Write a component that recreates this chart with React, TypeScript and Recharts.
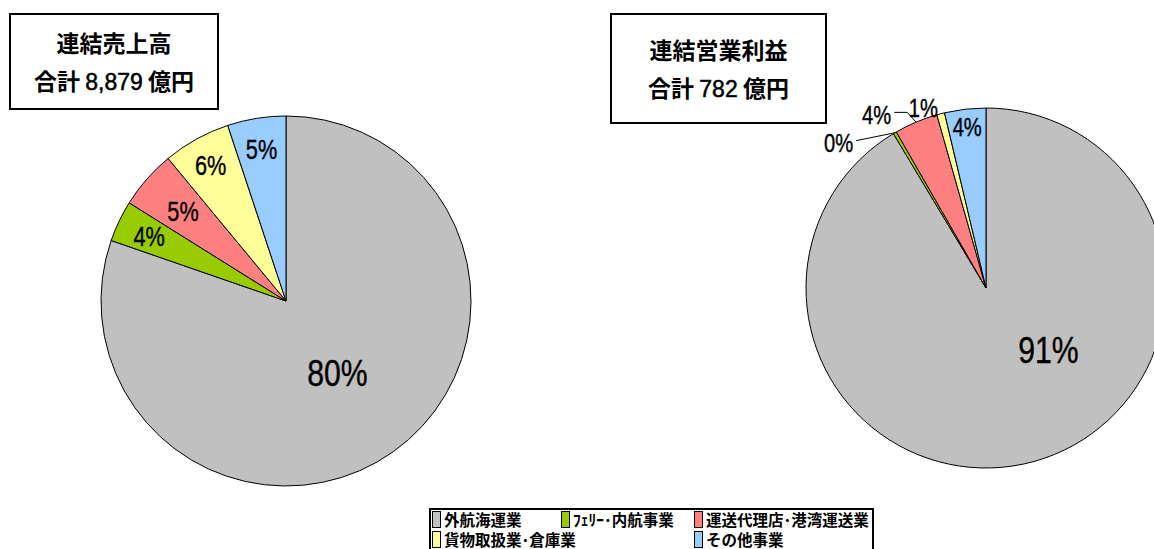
import React from "react";
import { PieChart, Pie, Cell } from "recharts";

// Segments (same order for both pies, clockwise from 12 o'clock)
const categories = [
  "外航海運業",
  "ﾌｪﾘｰ･内航事業",
  "運送代理店･港湾運送業",
  "貨物取扱業･倉庫業",
  "その他事業",
];
const colors = ["#C0C0C0", "#99CC00", "#FF8080", "#FFFF99", "#99CCFF"];

// Share of consolidated sales / operating profit (%)
const salesShare = [80.3, 3.6, 5.1, 5.9, 5.1];
const profitShare = [91.4, 0.3, 3.9, 0.7, 3.7];

const salesTitle = ["連結売上高", "合計", "8,879", "億円"];
const profitTitle = ["連結営業利益", "合計", "782", "億円"];

const salesData = categories.map((name, i) => ({ name, value: salesShare[i] }));
const profitData = categories.map((name, i) => ({ name, value: profitShare[i] }));

// label placement: r = fraction of radius, clock = override angle (deg from top, clockwise)
const salesLabels = [
  { r: 0.48, fs: 36 },
  { r: 0.82, fs: 28 },
  { r: 0.74, fs: 28 },
  { r: 0.84, fs: 28 },
  { r: 0.83, fs: 28 },
];
const profitLabels = [
  { r: 0.49, fs: 36, clock: 135 },
  { r: 1.15, fs: 26, clock: 314.6, leader: true, elbow: 0 },
  { r: 1.14, fs: 26, clock: 327.8, leader: true, elbow: 13 },
  { r: 1.06, fs: 26, clock: 340.8 },
  { r: 0.9, fs: 26 },
];

const renderLabel = (layout: any[]) => (props: any) => {
  const { cx, cy, midAngle, outerRadius, percent, index } = props;
  const cfg = layout[index];
  const mid = 90 - midAngle;
  const clock = cfg.clock ?? mid;
  const rad = (clock * Math.PI) / 180;
  const r = outerRadius * cfg.r;
  const x = cx + r * Math.sin(rad);
  const y = cy - r * Math.cos(rad);
  const text = `${Math.round(percent * 100)}%`;
  const w = text.length * 0.56 * cfg.fs;

  let leader = null;
  if (cfg.leader) {
    const mrad = (mid * Math.PI) / 180;
    const ex = cx + outerRadius * Math.sin(mrad);
    const ey = cy - outerRadius * Math.cos(mrad);
    const lx = x + w / 2 + 3;
    const ly = y - 2;
    leader = (
      <path
        d={`M${lx},${ly} L${lx + cfg.elbow},${ly} L${ex},${ey}`}
        stroke="#000"
        strokeWidth={1}
        fill="none"
      />
    );
  }

  return (
    <g key={`lbl-${index}`}>
      {leader}
      <text
        x={x}
        y={y + cfg.fs * 0.36}
        textAnchor="middle"
        fontFamily="'Liberation Sans', Arial, sans-serif"
        fontSize={cfg.fs}
        fill="#000"
        stroke="#000"
        strokeWidth={0.4}
        textLength={w}
        lengthAdjust="spacingAndGlyphs"
      >
        {text}
      </text>
    </g>
  );
};

const TitleBox = ({ lines, style }: { lines: string[]; style: React.CSSProperties }) => (
  <div
    style={{
      position: "absolute",
      boxSizing: "border-box",
      border: "2px solid #000",
      background: "#fff",
      display: "flex",
      flexDirection: "column",
      alignItems: "center",
      justifyContent: "center",
      fontFamily: "'Noto Sans CJK JP', sans-serif",
      fontWeight: 700,
      color: "#000",
      ...style,
    }}
  >
    <div style={{ fontSize: 23, lineHeight: "38px" }}>{lines[0]}</div>
    <div style={{ fontSize: 23, lineHeight: "38px" }}>
      {lines[1]}{" "}
      <span
        style={{
          fontFamily: "'Liberation Sans', Arial, sans-serif",
          fontWeight: 400,
          fontSize: 23,
          WebkitTextStroke: "0.5px #000",
        }}
      >
        {lines[2]}
      </span>{" "}
      {lines[3]}
    </div>
  </div>
);

// legend slots: [left, top] of each swatch inside the legend box
const legendSlots = [
  [1, 0],
  [130, 0],
  [263, 0],
  [1, 20],
  [263, 20],
];

const Legend = () => (
  <div
    style={{
      position: "absolute",
      left: 429,
      top: 508,
      width: 445,
      height: 50,
      boxSizing: "border-box",
      border: "2px solid #000",
      background: "#fff",
    }}
  >
    {categories.map((name, i) => (
      <div
        key={name}
        style={{
          position: "absolute",
          left: legendSlots[i][0],
          top: legendSlots[i][1],
          display: "flex",
          alignItems: "center",
          whiteSpace: "nowrap",
        }}
      >
        <div
          style={{
            width: 9,
            height: 17,
            boxSizing: "border-box",
            border: "1px solid #000",
            background: colors[i],
            marginRight: 3,
          }}
        />
        <span
          style={{
            fontFamily: "'Noto Sans CJK JP', sans-serif",
            fontWeight: 700,
            fontSize: 15.5,
            lineHeight: "19px",
            color: "#000",
          }}
        >
          {name}
        </span>
      </div>
    ))}
  </div>
);

export default function App() {
  return (
    <div
      style={{
        position: "absolute",
        left: 0,
        top: 0,
        width: 1154,
        height: 549,
        overflow: "hidden",
        background: "#fff",
      }}
    >
      <PieChart width={1154} height={549} margin={{ top: 0, right: 0, bottom: 0, left: 0 }}>
        <Pie
          data={salesData}
          dataKey="value"
          nameKey="name"
          cx={286}
          cy={301}
          outerRadius={185}
          startAngle={90}
          endAngle={-270}
          stroke="#000"
          strokeWidth={1}
          label={renderLabel(salesLabels)}
          labelLine={false}
          isAnimationActive={false}
        >
          {salesData.map((d, i) => (
            <Cell key={d.name} fill={colors[i]} />
          ))}
        </Pie>
        <Pie
          data={profitData}
          dataKey="value"
          nameKey="name"
          cx={986}
          cy={288}
          outerRadius={180}
          startAngle={90}
          endAngle={-270}
          stroke="#000"
          strokeWidth={1}
          label={renderLabel(profitLabels)}
          labelLine={false}
          isAnimationActive={false}
        >
          {profitData.map((d, i) => (
            <Cell key={d.name} fill={colors[i]} />
          ))}
        </Pie>
      </PieChart>
      <TitleBox lines={salesTitle} style={{ left: 9, top: 13, width: 210, height: 97 }} />
      <TitleBox lines={profitTitle} style={{ left: 610, top: 13, width: 217, height: 111 }} />
      <Legend />
    </div>
  );
}
